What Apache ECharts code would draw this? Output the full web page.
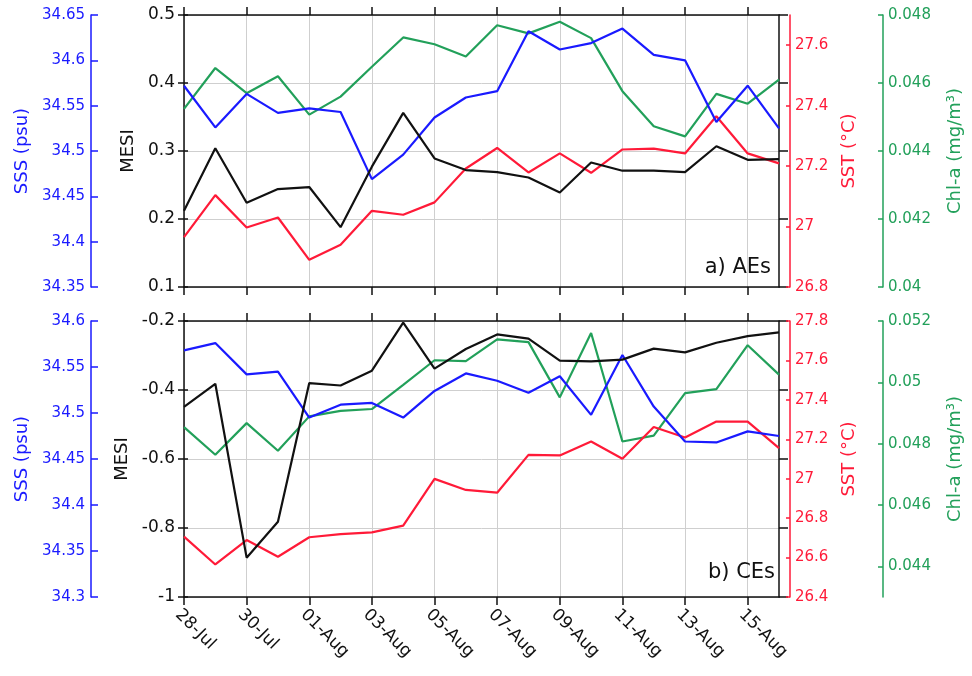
<!DOCTYPE html>
<html><head><meta charset="utf-8">
<script src="https://cdn.jsdelivr.net/npm/echarts@6.0.0/dist/echarts.min.js"></script>
<style>html,body{margin:0;padding:0;background:#fff}#c{width:972px;height:676px}</style>
</head><body><div id="c"></div>
<script>
// ---- categories ----
const dates = ['28-Jul','29-Jul','30-Jul','31-Jul','01-Aug','02-Aug','03-Aug','04-Aug','05-Aug','06-Aug',
  '07-Aug','08-Aug','09-Aug','10-Aug','11-Aug','12-Aug','13-Aug','14-Aug','15-Aug','16-Aug'];

// ---- panel a) AEs ----
const mesiA = [0.212,0.304,0.224,0.244,0.247,0.188,0.277,0.356,0.289,0.272,0.269,0.261,0.239,0.283,0.271,0.271,0.269,0.307,0.287,0.288];
const sssA  = [34.572,34.526,34.563,34.542,34.547,34.543,34.469,34.496,34.537,34.559,34.566,34.632,34.612,34.619,34.635,34.606,34.600,34.532,34.572,34.525];
const sstA  = [26.965,27.104,26.997,27.030,26.890,26.940,27.052,27.039,27.080,27.192,27.260,27.179,27.242,27.178,27.255,27.258,27.242,27.365,27.242,27.209];
const chlA  = [0.04524,0.04644,0.04570,0.04620,0.04507,0.04560,0.04648,0.04734,0.04714,0.04678,0.04770,0.04746,0.04780,0.04732,0.04576,0.04473,0.04443,0.04568,0.04539,0.04610];

// ---- panel b) CEs ----
const mesiB = [-0.449,-0.382,-0.886,-0.782,-0.380,-0.387,-0.344,-0.205,-0.338,-0.281,-0.239,-0.251,-0.315,-0.317,-0.312,-0.280,-0.291,-0.263,-0.244,-0.233];
const sssB  = [34.568,34.576,34.542,34.545,34.495,34.509,34.511,34.495,34.524,34.543,34.535,34.522,34.540,34.498,34.563,34.507,34.469,34.468,34.480,34.475];
const sstB  = [26.706,26.565,26.689,26.604,26.703,26.719,26.728,26.762,26.999,26.943,26.929,27.121,27.118,27.189,27.101,27.262,27.209,27.290,27.290,27.155];
const chlB  = [0.04854,0.04764,0.04867,0.04777,0.04889,0.04907,0.04913,0.04992,0.05072,0.05069,0.05140,0.05131,0.04951,0.05161,0.04807,0.04826,0.04965,0.04978,0.05121,0.05025];

// ---- tick labels ----
const mesiTicksA = [0.1,0.2,0.3,0.4,0.5];
const sssTicksA  = [34.35,34.4,34.45,34.5,34.55,34.6,34.65];
const sstTicksA  = [26.8,27,27.2,27.4,27.6];
const chlTicksA  = [0.04,0.042,0.044,0.046,0.048];
const mesiTicksB = [-1,-0.8,-0.6,-0.4,-0.2];
const sssTicksB  = [34.3,34.35,34.4,34.45,34.5,34.55,34.6];
const sstTicksB  = [26.4,26.6,26.8,27,27.2,27.4,27.6,27.8];
const chlTicksB  = [0.044,0.046,0.048,0.05,0.052];
const rangeA = {mesi:[0.1,0.5], sss:[34.35,34.65], sst:[26.8,27.7], chl:[0.04,0.048]};
const rangeB = {mesi:[-1,-0.2], sss:[34.3,34.6], sst:[26.4,27.8], chl:[0.043,0.052]};
const panelLabels = ['a) AEs','b) CEs'];

const FONT = 'DejaVu Sans';
const BLUE = '#1a1aff', RED = '#ff1a38', GREEN = '#22a05a', BLACK = '#111111', GRID = '#cfcfcf';
const fmt = v => String(+(+v).toFixed(4));

const grids = [
  {left:184, right:191, top:15, height:272},
  {left:184, right:191, top:321, height:276}
];

const xAxes = [];
[0,1].forEach(g => {
  const bottom = {
    type:'category', gridIndex:g, data:dates, boundaryGap:false, position:'bottom',
    axisLine:{show:true, lineStyle:{color:BLACK, width:1.5}},
    axisTick:{show:true, interval:1, inside:false, length:8, lineStyle:{color:BLACK, width:1.5}},
    splitLine:{show:true, interval:1, lineStyle:{color:GRID, width:1}},
    axisLabel: g === 1 ? {show:true, interval:1, rotate:-45, margin:9, verticalAlign:'top',
      color:BLACK, fontFamily:FONT, fontSize:17} : {show:false}
  };
  const top = {
    type:'category', gridIndex:g, data:dates, boundaryGap:false, position:'top',
    axisLine:{show:true, lineStyle:{color:BLACK, width:1.5}},
    axisTick:{show:true, interval:1, inside:false, length:8, lineStyle:{color:BLACK, width:1.5}},
    splitLine:{show:false}, axisLabel:{show:false}
  };
  xAxes.push(bottom, top);
});

const yAxes = [];
function panelAxes(g, r, mT, sT, tT, cT) {
  const base = yAxes.length;
  const mInt = +(mT[1]-mT[0]).toFixed(6);
  // 0 MESI main
  yAxes.push({type:'value', gridIndex:g, position:'left', offset:0, min:r.mesi[0], max:r.mesi[1], interval:mInt,
    name:'MESI', nameLocation:'middle', nameGap:45, nameRotate:90,
    nameTextStyle:{color:BLACK, fontFamily:FONT, fontSize:18},
    axisLine:{show:true, lineStyle:{color:BLACK, width:1.5}},
    axisTick:{show:true, inside:false, length:6, customValues:mT, lineStyle:{color:BLACK, width:1.5}},
    axisLabel:{show:true, customValues:mT, margin:9, color:BLACK, fontFamily:FONT, fontSize:17, formatter:fmt},
    splitLine:{show:true, lineStyle:{color:GRID, width:1}}});
  // 1 MESI mirror right (frame)
  yAxes.push({type:'value', gridIndex:g, position:'right', offset:0, min:r.mesi[0], max:r.mesi[1], interval:mInt,
    axisLine:{show:true, lineStyle:{color:BLACK, width:1.5}},
    axisTick:{show:true, inside:false, length:9, customValues:mT, lineStyle:{color:BLACK, width:1.5}},
    axisLabel:{show:false}, splitLine:{show:false}});
  // 2 MESI inner ticks
  yAxes.push({type:'value', gridIndex:g, position:'left', offset:0, min:r.mesi[0], max:r.mesi[1], interval:mInt,
    axisLine:{show:false},
    axisTick:{show:true, inside:true, length:4, customValues:mT, lineStyle:{color:BLACK, width:1.5}},
    axisLabel:{show:false}, splitLine:{show:false}});
  // 3 SSS
  yAxes.push({type:'value', gridIndex:g, position:'left', offset:93, min:r.sss[0], max:r.sss[1],
    name:'SSS (psu)', nameLocation:'middle', nameGap:54, nameRotate:90,
    nameTextStyle:{color:BLUE, fontFamily:FONT, fontSize:18},
    axisLine:{show:true, lineStyle:{color:BLUE, width:1.5}},
    axisTick:{show:true, inside:true, length:7, customValues:sT, lineStyle:{color:BLUE, width:1.5}},
    axisLabel:{show:true, customValues:sT, margin:6, color:BLUE, fontFamily:FONT, fontSize:15, formatter:fmt},
    splitLine:{show:false}});
  // 4 SST
  yAxes.push({type:'value', gridIndex:g, position:'right', offset:11, min:r.sst[0], max:r.sst[1],
    name:'SST (°C)', nameLocation:'middle', nameGap:50, nameRotate:90,
    nameTextStyle:{color:RED, fontFamily:FONT, fontSize:18},
    axisLine:{show:true, lineStyle:{color:RED, width:1.5}},
    axisTick:{show:true, inside:true, length:4, customValues:tT, lineStyle:{color:RED, width:1.5}},
    axisLabel:{show:true, customValues:tT, margin:5, color:RED, fontFamily:FONT, fontSize:15, formatter:fmt},
    splitLine:{show:false}});
  // 5 Chl-a
  yAxes.push({type:'value', gridIndex:g, position:'right', offset:104, min:r.chl[0], max:r.chl[1],
    name:'Chl-a (mg/m³)', nameLocation:'middle', nameGap:63, nameRotate:90,
    nameTextStyle:{color:GREEN, fontFamily:FONT, fontSize:18},
    axisLine:{show:true, lineStyle:{color:GREEN, width:1.5}},
    axisTick:{show:true, inside:true, length:5, customValues:cT, lineStyle:{color:GREEN, width:1.5}},
    axisLabel:{show:true, customValues:cT, margin:5, color:GREEN, fontFamily:FONT, fontSize:15, formatter:fmt},
    splitLine:{show:false}});
  return base;
}
const bA = panelAxes(0, rangeA, mesiTicksA, sssTicksA, sstTicksA, chlTicksA);
const bB = panelAxes(1, rangeB, mesiTicksB, sssTicksB, sstTicksB, chlTicksB);

function line(data, color, xi, yi) {
  return {type:'line', data:data, xAxisIndex:xi, yAxisIndex:yi, symbol:'none', smooth:false,
    lineStyle:{color:color, width:2.2}, itemStyle:{color:color}, z:3};
}
const series = [
  line(chlA, GREEN, 0, bA+5), line(sstA, RED, 0, bA+4), line(sssA, BLUE, 0, bA+3), line(mesiA, BLACK, 0, bA+0),
  line(chlB, GREEN, 2, bB+5), line(sstB, RED, 2, bB+4), line(sssB, BLUE, 2, bB+3), line(mesiB, BLACK, 2, bB+0)
];

const chart = echarts.init(document.getElementById('c'), null, {renderer:'canvas'});
chart.setOption({
  animation:false,
  backgroundColor:'#ffffff',
  grid:grids,
  xAxis:xAxes,
  yAxis:yAxes,
  series:series,
  graphic:[
    {type:'text', right:201, top:257, z:10, style:{text:panelLabels[0], font:'21px "DejaVu Sans"', fill:BLACK}},
    {type:'text', right:197, top:562, z:10, style:{text:panelLabels[1], font:'21px "DejaVu Sans"', fill:BLACK}}
  ]
});
</script>
</body></html>
